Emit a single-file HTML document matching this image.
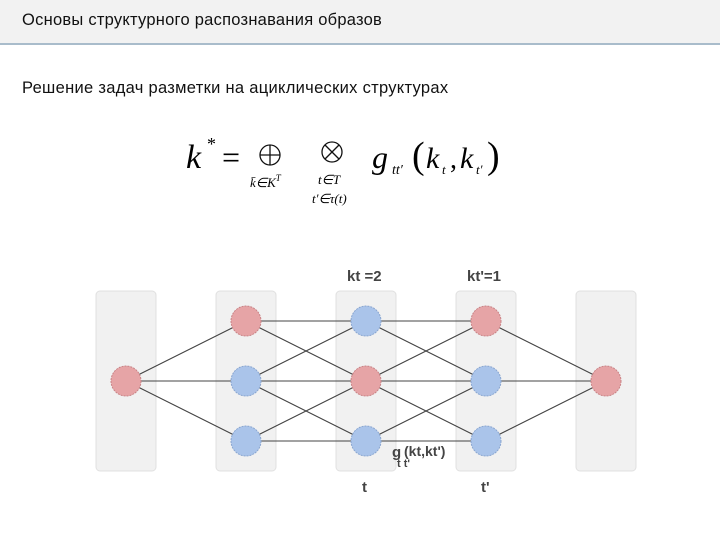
<!DOCTYPE html>
<html><head><meta charset="utf-8"><style>
body{margin:0;width:720px;height:540px;background:#fff;overflow:hidden;font-family:"Liberation Sans",sans-serif;position:relative}
.hdr{position:absolute;left:0;top:0;width:720px;height:43px;background:#f2f2f2;border-bottom:2px solid #a9bccb}
.t1{position:absolute;left:22px;top:11px;font-size:16.5px;color:#111;letter-spacing:0.25px}
.t2{position:absolute;left:22px;top:79px;font-size:16.5px;color:#111;letter-spacing:0.3px}
</style></head><body>
<div class="hdr"></div>
<div class="t1">Основы структурного распознавания образов</div>
<div class="t2">Решение задач разметки на ациклических структурах</div>
<svg width="720" height="540" style="position:absolute;left:0;top:0" font-family="Liberation Serif,serif">
<text x="186" y="168" font-size="34" font-style="italic">k</text>
<text x="207" y="150" font-size="18">*</text>
<text x="222" y="168" font-size="32">=</text>
<g stroke="#111" stroke-width="1.3" fill="none">
<circle cx="270" cy="155" r="10"/><line x1="260" y1="155" x2="280" y2="155"/><line x1="270" y1="145" x2="270" y2="165"/>
<circle cx="332" cy="152" r="10"/><line x1="325" y1="145" x2="339" y2="159"/><line x1="339" y1="145" x2="325" y2="159"/>
</g>
<text x="250" y="187" font-size="13" font-style="italic">k̄∈K<tspan dy="-6" font-size="9">T</tspan></text>
<text x="318" y="184" font-size="13" font-style="italic">t∈T</text>
<text x="312" y="203" font-size="13" font-style="italic">t′∈τ(t)</text>
<text x="372" y="168" font-size="32" font-style="italic">g</text>
<text x="392" y="174" font-size="14" font-style="italic">tt′</text>
<text x="412" y="168" font-size="38">(</text>
<text x="426" y="168" font-size="30" font-style="italic">k</text>
<text x="442" y="174" font-size="13" font-style="italic">t</text>
<text x="450" y="168" font-size="28">,</text>
<text x="460" y="168" font-size="30" font-style="italic">k</text>
<text x="476" y="174" font-size="13" font-style="italic">t′</text>
<text x="487" y="168" font-size="38">)</text>
<g fill="#f1f1f1" stroke="#e0e0e0">
<rect x="96" y="291" width="60" height="180" rx="4"/>
<rect x="216" y="291" width="60" height="180" rx="4"/>
<rect x="336" y="291" width="60" height="180" rx="4"/>
<rect x="456" y="291" width="60" height="180" rx="4"/>
<rect x="576" y="291" width="60" height="180" rx="4"/>
</g>
<g stroke="#444" stroke-width="1.1">
<line x1="126" y1="381" x2="246" y2="321"/><line x1="126" y1="381" x2="246" y2="381"/><line x1="126" y1="381" x2="246" y2="441"/>
<line x1="246" y1="321" x2="366" y2="321"/><line x1="246" y1="321" x2="366" y2="381"/>
<line x1="246" y1="381" x2="366" y2="321"/><line x1="246" y1="381" x2="366" y2="381"/><line x1="246" y1="381" x2="366" y2="441"/>
<line x1="246" y1="441" x2="366" y2="381"/><line x1="246" y1="441" x2="366" y2="441"/>
<line x1="366" y1="321" x2="486" y2="321"/><line x1="366" y1="321" x2="486" y2="381"/>
<line x1="366" y1="381" x2="486" y2="321"/><line x1="366" y1="381" x2="486" y2="381"/><line x1="366" y1="381" x2="486" y2="441"/>
<line x1="366" y1="441" x2="486" y2="381"/><line x1="366" y1="441" x2="486" y2="441"/>
<line x1="486" y1="321" x2="606" y2="381"/><line x1="486" y1="381" x2="606" y2="381"/><line x1="486" y1="441" x2="606" y2="381"/>
</g>
<g stroke-width="1" stroke-dasharray="2 1">
<g fill="#e6a4a6" stroke="#c98487">
<circle cx="126" cy="381" r="15"/><circle cx="246" cy="321" r="15"/><circle cx="366" cy="381" r="15"/><circle cx="486" cy="321" r="15"/><circle cx="606" cy="381" r="15"/>
</g>
<g fill="#aac4ea" stroke="#8aa6d0">
<circle cx="246" cy="381" r="15"/><circle cx="246" cy="441" r="15"/><circle cx="366" cy="321" r="15"/><circle cx="366" cy="441" r="15"/><circle cx="486" cy="381" r="15"/><circle cx="486" cy="441" r="15"/>
</g>
</g>
<g font-family="Liberation Sans,sans-serif" font-weight="bold" fill="#444">
<text x="347" y="281" font-size="15">kt =2</text>
<text x="467" y="281" font-size="15">kt'=1</text>
<text x="362" y="492" font-size="15">t</text>
<text x="481" y="492" font-size="15">t'</text>
<text x="392" y="457" font-size="15">g</text>
<text x="397" y="467" font-size="11">t t'</text>
<text x="404" y="456" font-size="14">(kt,kt')</text>
</g>
</svg>
</body></html>
